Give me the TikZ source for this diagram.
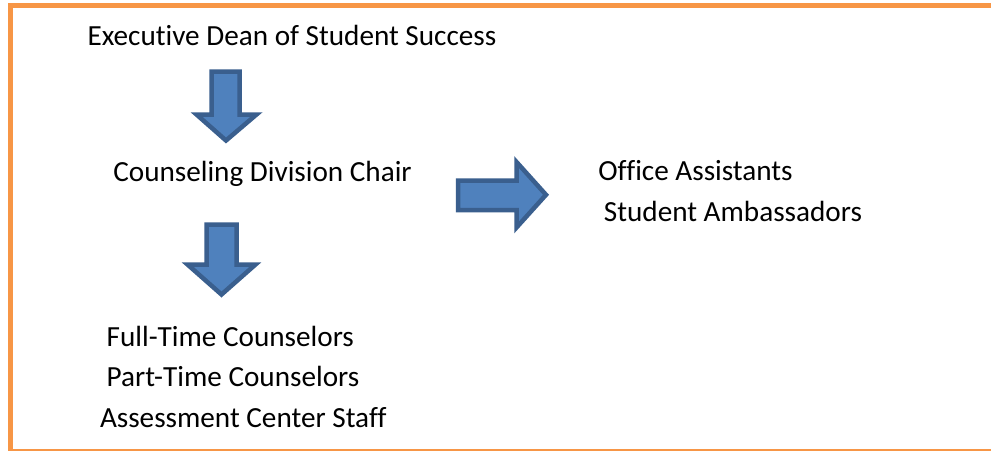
\documentclass[tikz,border=0pt]{standalone}
\usepackage{fontspec}
\setmainfont{Carlito}[Ligatures=NoCommon]
\definecolor{frameorange}{HTML}{F79646}
\definecolor{arrowfill}{HTML}{4F81BD}
\definecolor{arrowline}{HTML}{3A5F8E}
\tikzset{
  lbl/.style={anchor=base west, inner sep=0pt, outer sep=0pt, font=\fontsize{29.2}{35}\selectfont, text=black},
  blockarrow/.style={fill=arrowfill, draw=arrowline, line width=4.5pt, line join=miter},
  framebar/.style={draw=frameorange, line width=5pt}
}
\begin{document}
\begin{tikzpicture}[x=1pt,y=-1pt]
\useasboundingbox (0,0) rectangle (991,450);
\clip (0,0) rectangle (991,450);
\fill[white] (0,0) rectangle (991,450);
% frame
\draw[framebar] (1000,5) -- (10.8,5) -- (10.8,451) -- (1000,451);
% texts
\node[lbl] (dean) at (87.5,45) {Executive Dean of Student Success};
\node[lbl] (chair) at (113.3,181.5) {Counseling Division Chair};
\node[lbl] (office) at (598.4,180.7) {Office Assistants};
\node[lbl] (amb) at (603.9,221.7) {Student Ambassadors};
\node[lbl] (ft) at (106.7,346) {Full-Time Counselors};
\node[lbl] (pt) at (106.7,386.7) {Part-Time Counselors};
\node[lbl] (acs) at (100,427.7) {Assessment Center Staff};
% block arrows
\draw[blockarrow] (211.5,71.5) -- (239.5,71.5) -- (239.5,114.5) -- (256.5,114.5) -- (226,140.5) -- (196.5,114.5) -- (211.5,114.5) -- cycle;
\draw[blockarrow] (206.5,224.5) -- (236.5,224.5) -- (236.5,264.5) -- (255.5,264.5) -- (221.5,294.5) -- (187.5,264.5) -- (206.5,264.5) -- cycle;
\draw[blockarrow] (458,180.5) -- (516.5,180.5) -- (516.5,162) -- (546,194.8) -- (516.5,227.5) -- (516.5,210) -- (458,210) -- cycle;
\end{tikzpicture}
\end{document}
